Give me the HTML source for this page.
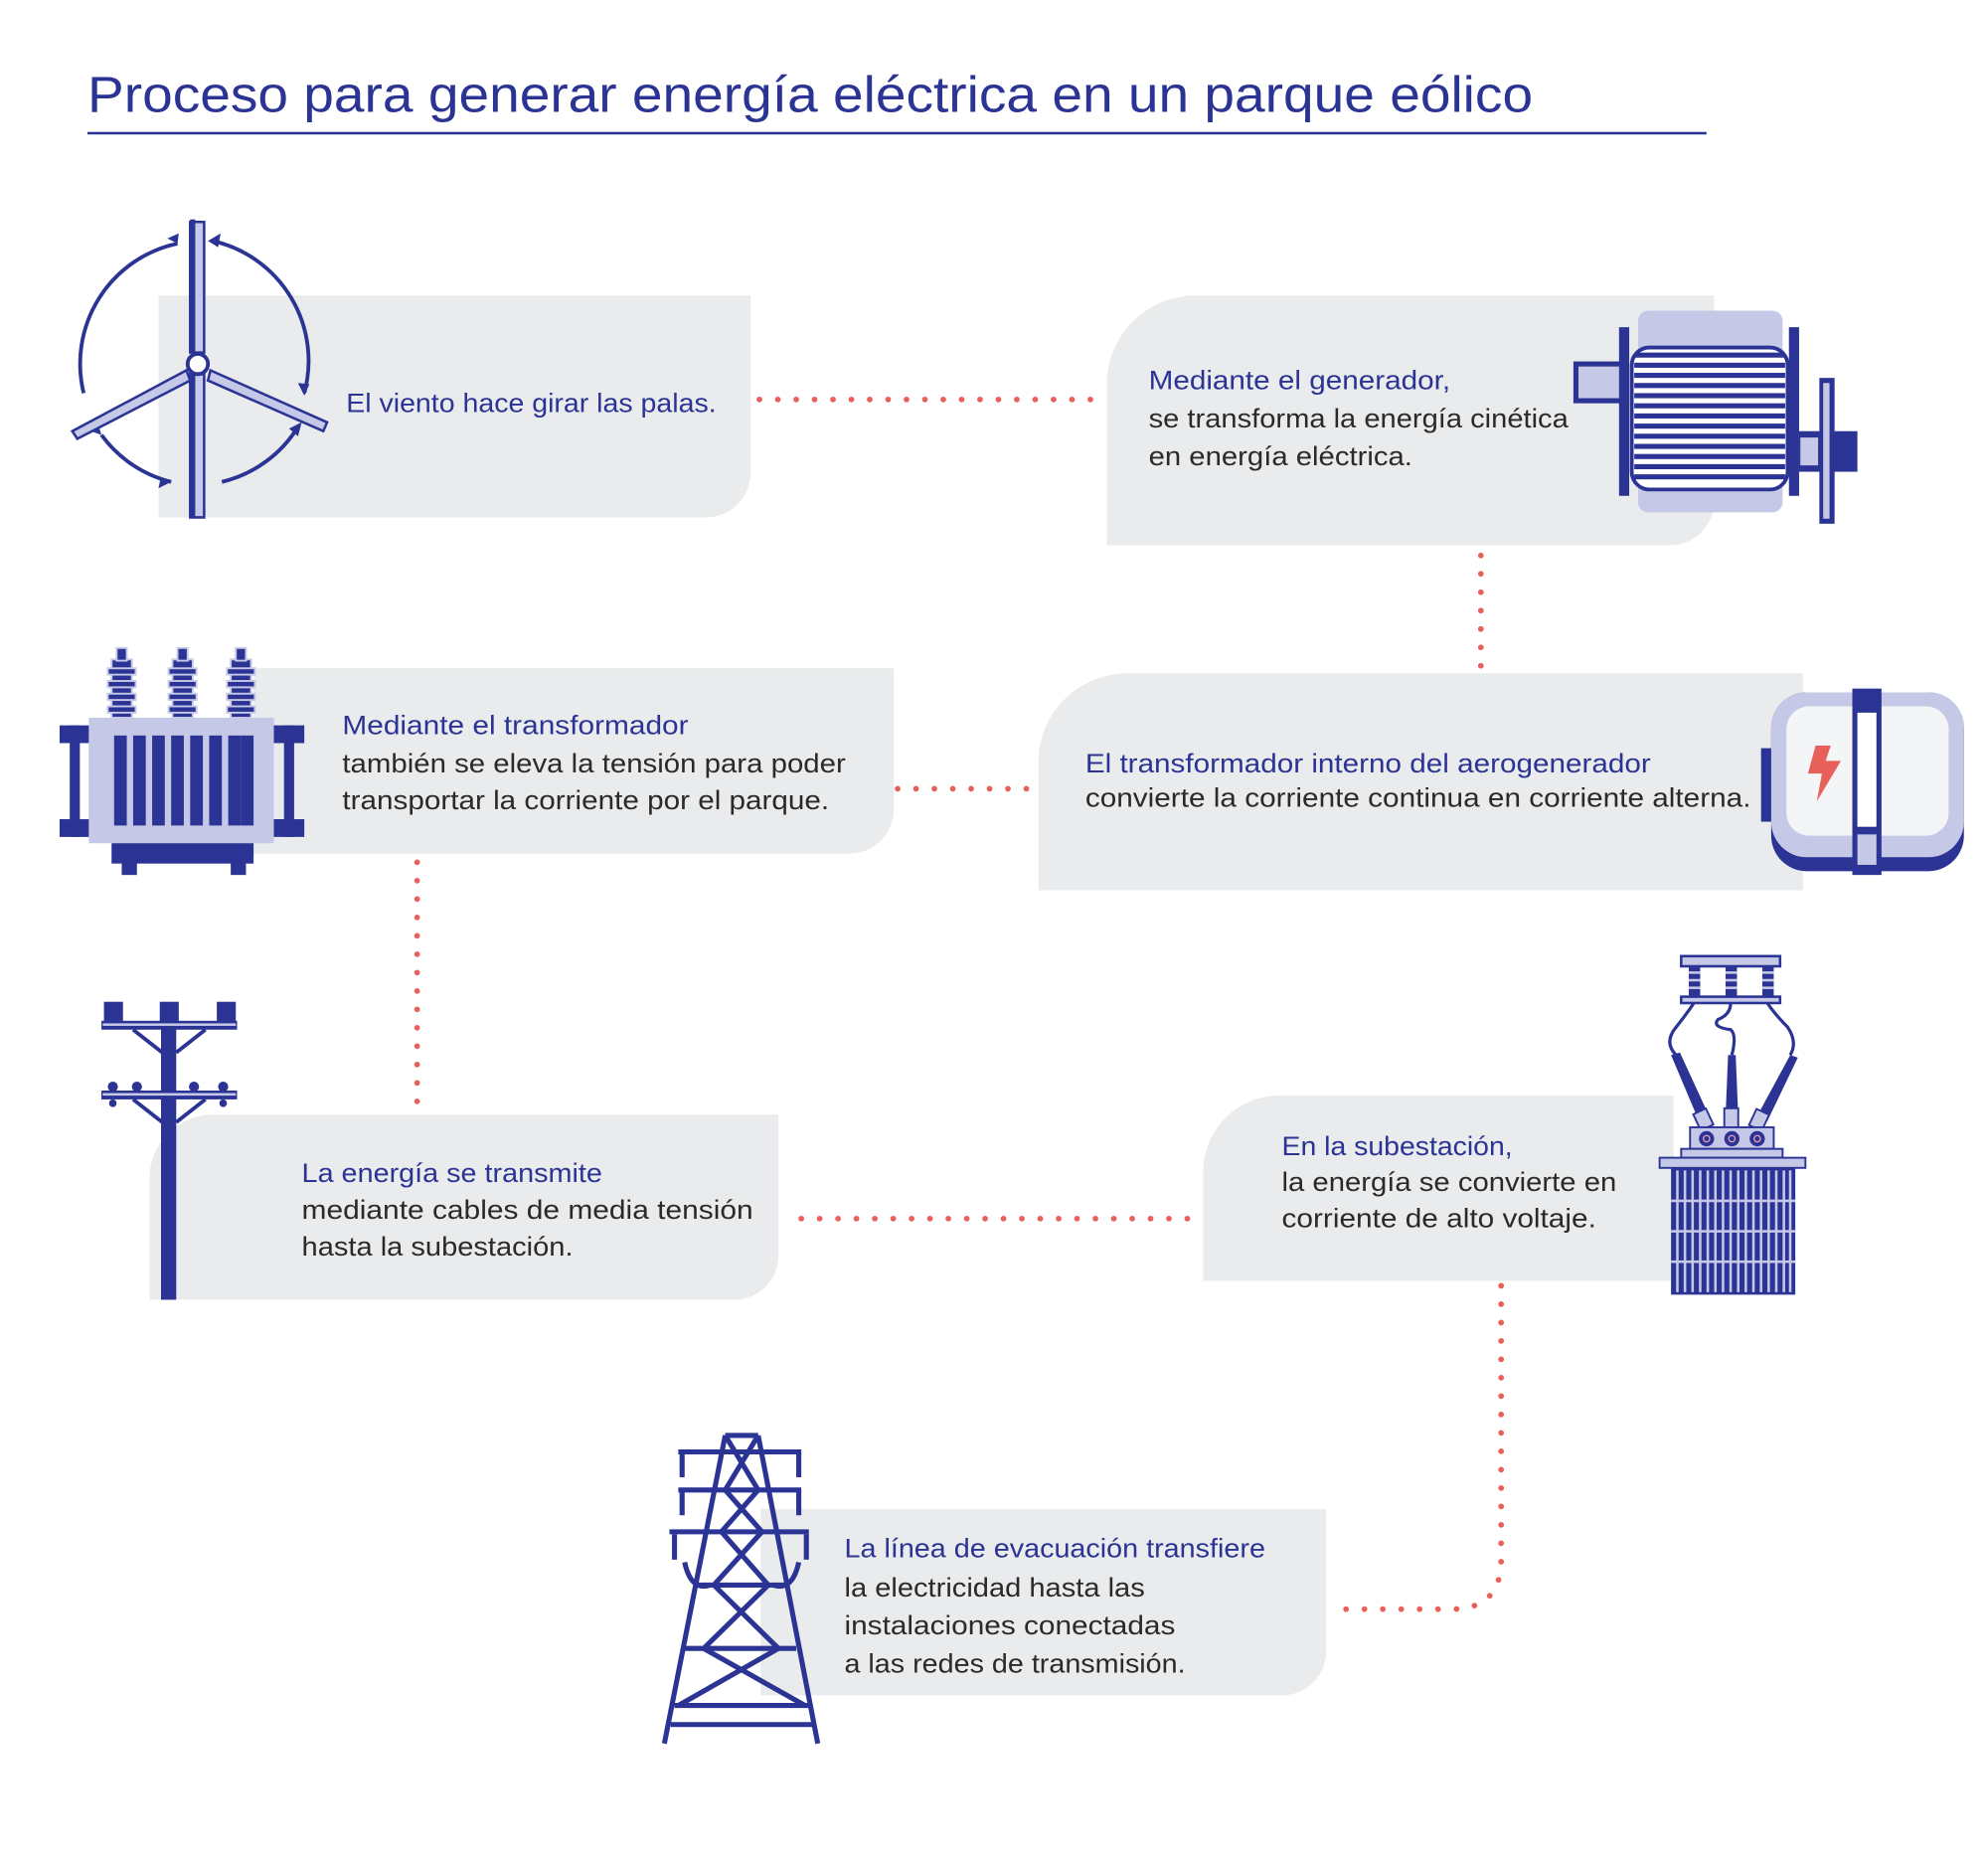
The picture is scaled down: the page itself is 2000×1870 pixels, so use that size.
<!DOCTYPE html>
<html><head><meta charset="utf-8"><style>
html,body{margin:0;padding:0;background:#fff;}
svg{display:block;}
text{font-family:"Liberation Sans",sans-serif;}
.h{fill:#2b3494;font-size:21px;}
.b{fill:#2a2a2a;font-size:21px;}
.d{stroke:#e8605a;stroke-width:4.5;stroke-linecap:round;stroke-dasharray:0 14.5;fill:none;}
.dk{fill:#2b3494;}
.lt{fill:#c5c8e6;}
</style></head><body>
<svg width="2000" height="1870" viewBox="0 0 1568 1466" xmlns="http://www.w3.org/2000/svg">
<rect width="1568" height="1466" fill="#fff"/>
<text x="69" y="88" textLength="1140" lengthAdjust="spacingAndGlyphs" style="font-size:40px;fill:#2b3494;">Proceso para generar energía eléctrica en un parque eólico</text>
<rect x="69" y="104" width="1277" height="2" fill="#2b3494"/>

<path d="M125 233 H592 V373 A35 35 0 0 1 557 408 H125 Z" fill="#e9ebec"/>
<path d="M943 233 H1352 V395 A35 35 0 0 1 1317 430 H873 V303 A70 70 0 0 1 943 233 Z" fill="#e9ebec"/>
<path d="M200 527 H705 V638 A35 35 0 0 1 670 673 H200 Z" fill="#e9ebec"/>
<path d="M889 531 H1422 V702 H819 V601 A70 70 0 0 1 889 531 Z" fill="#e9ebec"/>
<path d="M168 879 H614 V990 A35 35 0 0 1 579 1025 H118 V929 A50 50 0 0 1 168 879 Z" fill="#e9ebec"/>
<path d="M1009 864 H1320 V1010 H949 V924 A60 60 0 0 1 1009 864 Z" fill="#e9ebec"/>
<path d="M600 1190 H1046 V1302 A35 35 0 0 1 1011 1337 H600 Z" fill="#e9ebec"/>

<path class="d" d="M599 315 H865"/>
<path class="d" d="M1168 438 V528"/>
<path class="d" d="M708 622 H816"/>
<path class="d" d="M329 680 V878"/>
<path class="d" d="M632 961 H940"/>
<path class="d" d="M1184 1014 V1230 Q1184 1269 1145 1269 H1048"/>

<g lengthAdjust="spacingAndGlyphs">
<text class="h" x="273" y="325" textLength="292" lengthAdjust="spacingAndGlyphs">El viento hace girar las palas.</text>
<text class="h" x="906" y="307" textLength="238" lengthAdjust="spacingAndGlyphs">Mediante el generador,</text>
<text class="b" x="906" y="337" textLength="331" lengthAdjust="spacingAndGlyphs">se transforma la energía cinética</text>
<text class="b" x="906" y="367" textLength="208" lengthAdjust="spacingAndGlyphs">en energía eléctrica.</text>
<text class="h" x="270" y="579" textLength="273" lengthAdjust="spacingAndGlyphs">Mediante el transformador</text>
<text class="b" x="270" y="609" textLength="397" lengthAdjust="spacingAndGlyphs">también se eleva la tensión para poder</text>
<text class="b" x="270" y="638" textLength="384" lengthAdjust="spacingAndGlyphs">transportar la corriente por el parque.</text>
<text class="h" x="856" y="609" textLength="446" lengthAdjust="spacingAndGlyphs">El transformador interno del aerogenerador</text>
<text class="b" x="856" y="636" textLength="525" lengthAdjust="spacingAndGlyphs">convierte la corriente continua en corriente alterna.</text>
<text class="h" x="238" y="932" textLength="237" lengthAdjust="spacingAndGlyphs">La energía se transmite</text>
<text class="b" x="238" y="961" textLength="356" lengthAdjust="spacingAndGlyphs">mediante cables de media tensión</text>
<text class="b" x="238" y="990" textLength="214" lengthAdjust="spacingAndGlyphs">hasta la subestación.</text>
<text class="h" x="1011" y="911" textLength="182" lengthAdjust="spacingAndGlyphs">En la subestación,</text>
<text class="b" x="1011" y="939" textLength="264" lengthAdjust="spacingAndGlyphs">la energía se convierte en</text>
<text class="b" x="1011" y="968" textLength="248" lengthAdjust="spacingAndGlyphs">corriente de alto voltaje.</text>
<text class="h" x="666" y="1228" textLength="332" lengthAdjust="spacingAndGlyphs">La línea de evacuación transfiere</text>
<text class="b" x="666" y="1259" textLength="237" lengthAdjust="spacingAndGlyphs">la electricidad hasta las</text>
<text class="b" x="666" y="1289" textLength="261" lengthAdjust="spacingAndGlyphs">instalaciones conectadas</text>
<text class="b" x="666" y="1319" textLength="269" lengthAdjust="spacingAndGlyphs">a las redes de transmisión.</text>
</g>

<!-- windmill -->
<g fill="none" stroke="#2b3494" stroke-width="3">
<path d="M168 190 A97 97 0 0 1 240 310"/>
<path d="M236 335 A97 97 0 0 1 175 380"/>
<path d="M135 380 A97 97 0 0 1 80 343"/>
<path d="M66 310 A97 97 0 0 1 140 192"/>
</g>
<g fill="#2b3494">
<path d="M164 190 l10 -6 l-2 11z"/><path d="M240 312 l-5 -10 l9 1z"/>
<path d="M238 333 l-3 11 l-7 -6z"/><path d="M135 380 l-10 5 l2 -9z"/>
<path d="M80 343 l-11 -4 l8 -6z"/><path d="M140 192 l-8 -4 l9 -4z"/>
</g>
<path d="M150 295 H161 V408 H150 Z" fill="#c5c8e6" stroke="#2b3494" stroke-width="2"/>
<rect x="150" y="290" width="4" height="118" fill="#2b3494"/>
<path d="M150 175 H161 V278 H150 Z" fill="#c5c8e6" stroke="#2b3494" stroke-width="2"/>
<rect x="150" y="173" width="4" height="105" fill="#2b3494"/>
<path d="M147 292 L57 340 L61 346 L150 300 Z" fill="#c5c8e6" stroke="#2b3494" stroke-width="2"/>
<path d="M166 292 L258 333 L255 340 L164 300 Z" fill="#c5c8e6" stroke="#2b3494" stroke-width="2"/>
<circle cx="156" cy="287" r="8" fill="#fff" stroke="#2b3494" stroke-width="3"/>

<!-- generator -->
<rect x="1243" y="287" width="40" height="29" class="lt" stroke="#2b3494" stroke-width="4"/>
<rect x="1292" y="245" width="114" height="159" rx="8" class="lt"/>
<rect x="1287" y="274" width="123" height="112" rx="14" fill="#fff" stroke="#2b3494" stroke-width="3"/>
<g fill="#2b3494">
<rect x="1289" y="278" width="119" height="4"/><rect x="1289" y="286" width="119" height="4"/><rect x="1289" y="294" width="119" height="4"/><rect x="1289" y="302" width="119" height="4"/><rect x="1289" y="310" width="119" height="4"/><rect x="1289" y="318" width="119" height="4"/><rect x="1289" y="326" width="119" height="4"/><rect x="1289" y="334" width="119" height="4"/><rect x="1289" y="342" width="119" height="4"/><rect x="1289" y="350" width="119" height="4"/><rect x="1289" y="358" width="119" height="4"/><rect x="1289" y="366" width="119" height="4"/><rect x="1289" y="374" width="119" height="4"/>
<rect x="1277" y="258" width="8" height="133"/><rect x="1411" y="258" width="8" height="133"/>
<rect x="1435" y="298" width="12" height="115"/>
<rect x="1419" y="340" width="46" height="32"/>
</g>
<rect x="1438" y="302" width="5" height="107" fill="#c5c8e6"/>
<rect x="1420" y="345" width="14" height="22" fill="#c5c8e6"/>

<!-- inverter -->
<rect x="1389" y="590" width="10" height="58" fill="#2b3494"/>
<rect x="1397" y="546" width="152" height="141" rx="28" fill="#2b3494"/>
<rect x="1397" y="546" width="152" height="130" rx="28" fill="#c5c8e6"/>
<rect x="1409" y="557" width="128" height="102" rx="18" fill="#f4f5f7"/>
<rect x="1461" y="543" width="23" height="147" fill="#2b3494"/>
<rect x="1465" y="562" width="15" height="90" fill="#fff"/>
<rect x="1465" y="658" width="15" height="24" fill="#c5c8e6"/>
<path d="M1432 588 L1444 588 L1440 600 L1452 600 L1433 632 L1437 610 L1426 610 Z" fill="#e8605a"/>

<!-- transformer left -->
<g fill="#2b3494">
<rect x="47" y="572" width="24" height="14"/><rect x="47" y="646" width="24" height="14"/><rect x="55" y="572" width="8" height="88"/>
<rect x="216" y="572" width="24" height="14"/><rect x="216" y="646" width="24" height="14"/><rect x="224" y="572" width="8" height="88"/>
<rect x="88" y="663" width="112" height="18"/><rect x="96" y="676" width="12" height="14"/><rect x="182" y="676" width="12" height="14"/>
</g>
<rect x="70" y="566" width="146" height="99" class="lt"/>
<g fill="#2b3494">
<rect x="90" y="580" width="10" height="71"/><rect x="105" y="580" width="10" height="71"/><rect x="120" y="580" width="10" height="71"/><rect x="135" y="580" width="10" height="71"/><rect x="150" y="580" width="10" height="71"/><rect x="165" y="580" width="10" height="71"/><rect x="180" y="580" width="10" height="71"/><rect x="190" y="580" width="10" height="71"/>
</g>
<g fill="#2b3494" stroke="#c5c8e6" stroke-width="1.5">
<g id="bush"><rect x="88" y="520" width="16" height="46"/><rect x="85" y="527" width="22" height="5"/><rect x="85" y="537" width="22" height="5"/><rect x="85" y="547" width="22" height="5"/><rect x="85" y="557" width="22" height="5"/><rect x="92" y="511" width="8" height="10"/></g>
<use href="#bush" x="48"/><use href="#bush" x="94"/>
</g>

<!-- pole -->
<g fill="#2b3494">
<rect x="127" y="795" width="12" height="230"/>
<rect x="80" y="805" width="107" height="7"/><rect x="80" y="860" width="107" height="7"/>
<rect x="82" y="790" width="15" height="16"/><rect x="126" y="790" width="15" height="16"/><rect x="171" y="790" width="15" height="16"/>
<circle cx="89" cy="857" r="4"/><circle cx="108" cy="857" r="4"/><circle cx="153" cy="857" r="4"/><circle cx="176" cy="857" r="4"/>
<circle cx="89" cy="870" r="3"/><circle cx="176" cy="870" r="3"/>
</g>
<g stroke="#2b3494" stroke-width="3" fill="none">
<path d="M105 812 L128 830 M162 812 L139 830 M105 867 L128 885 M162 867 L139 885"/>
</g>
<rect x="81" y="807" width="105" height="2" fill="#c5c8e6"/><rect x="81" y="862" width="105" height="2" fill="#c5c8e6"/>

<!-- substation -->
<rect x="1326" y="754" width="78" height="8" class="lt" stroke="#2b3494" stroke-width="2"/>
<rect x="1326" y="786" width="78" height="5" class="lt" stroke="#2b3494" stroke-width="2"/>
<g fill="#2b3494"><rect x="1332" y="762" width="9" height="24"/><rect x="1361" y="762" width="9" height="24"/><rect x="1390" y="762" width="9" height="24"/></g>
<g fill="#c5c8e6"><rect x="1332" y="766" width="9" height="2"/><rect x="1332" y="772" width="9" height="2"/><rect x="1332" y="778" width="9" height="2"/><rect x="1361" y="766" width="9" height="2"/><rect x="1361" y="772" width="9" height="2"/><rect x="1361" y="778" width="9" height="2"/><rect x="1390" y="766" width="9" height="2"/><rect x="1390" y="772" width="9" height="2"/><rect x="1390" y="778" width="9" height="2"/></g>
<g stroke="#2b3494" stroke-width="2.5" fill="none">
<path d="M1336 791 Q1330 800 1322 810 Q1312 822 1322 832"/>
<path d="M1365 791 Q1365 800 1355 804 Q1350 810 1365 812 Q1370 816 1366 832"/>
<path d="M1394 791 Q1400 800 1410 810 Q1418 822 1412 832"/>
</g>
<g fill="#2b3494">
<path d="M1318 832 L1325 830 L1348 880 L1340 884 Z"/>
<path d="M1363 832 L1369 832 L1371 880 L1361 880 Z"/>
<path d="M1412 832 L1418 834 L1394 884 L1386 880 Z"/>
</g>
<g class="lt" stroke="#2b3494" stroke-width="1.5">
<rect x="1338" y="876" width="11" height="14" transform="rotate(-25 1343 883)"/>
<rect x="1360" y="874" width="11" height="16"/>
<rect x="1382" y="876" width="11" height="14" transform="rotate(25 1387 883)"/>
</g>
<rect x="1333" y="889" width="66" height="17" class="lt" stroke="#2b3494" stroke-width="1.5"/>
<g fill="#2b3494"><circle cx="1346" cy="898" r="6"/><circle cx="1366" cy="898" r="6"/><circle cx="1386" cy="898" r="6"/></g>
<g fill="#e8a0b0"><circle cx="1346" cy="898" r="3"/><circle cx="1366" cy="898" r="3"/><circle cx="1386" cy="898" r="3"/></g>
<g fill="#2b3494"><circle cx="1346" cy="898" r="2"/><circle cx="1366" cy="898" r="2"/><circle cx="1386" cy="898" r="2"/></g>
<rect x="1326" y="906" width="80" height="7" class="lt" stroke="#2b3494" stroke-width="1.5"/>
<rect x="1309" y="913" width="115" height="8" class="lt" stroke="#2b3494" stroke-width="1.5"/>
<rect x="1318" y="921" width="98" height="100" fill="#2b3494"/>
<g fill="#c5c8e6">
<rect x="1322" y="923" width="2" height="96"/><rect x="1328" y="923" width="2" height="96"/><rect x="1334" y="923" width="2" height="96"/><rect x="1340" y="923" width="2" height="96"/><rect x="1346" y="923" width="2" height="96"/><rect x="1352" y="923" width="2" height="96"/><rect x="1358" y="923" width="2" height="96"/><rect x="1364" y="923" width="2" height="96"/><rect x="1370" y="923" width="2" height="96"/><rect x="1376" y="923" width="2" height="96"/><rect x="1382" y="923" width="2" height="96"/><rect x="1388" y="923" width="2" height="96"/><rect x="1394" y="923" width="2" height="96"/><rect x="1400" y="923" width="2" height="96"/><rect x="1406" y="923" width="2" height="96"/><rect x="1411" y="923" width="2" height="96"/>
<rect x="1318" y="946" width="98" height="2"/><rect x="1318" y="970" width="98" height="2"/><rect x="1318" y="994" width="98" height="2"/>
</g>

<!-- tower -->
<g stroke="#2b3494" stroke-width="4" fill="none" stroke-linejoin="round">
<path d="M572 1132 L524 1375 M598 1132 L645 1375"/>
<path d="M572 1132 H598"/>
<path d="M535 1145 H632 M535 1175 H632 M528 1208 H638"/>
<path d="M572 1132 L598 1175 L569 1208 L606 1250 L555 1300 L635 1345 M598 1132 L572 1175 L601 1208 L563 1250 L614 1300 L535 1345"/>
<path d="M550 1250 H620 M540 1300 H628 M532 1345 H638 M529 1360 H641"/>
<path d="M538 1145 V1165 M630 1145 V1165 M538 1175 V1195 M630 1175 V1195 M532 1210 V1230 M636 1210 V1230"/>
<path d="M540 1232 Q545 1255 560 1250 M630 1232 Q625 1255 610 1250"/>
</g>
</svg>
</body></html>
